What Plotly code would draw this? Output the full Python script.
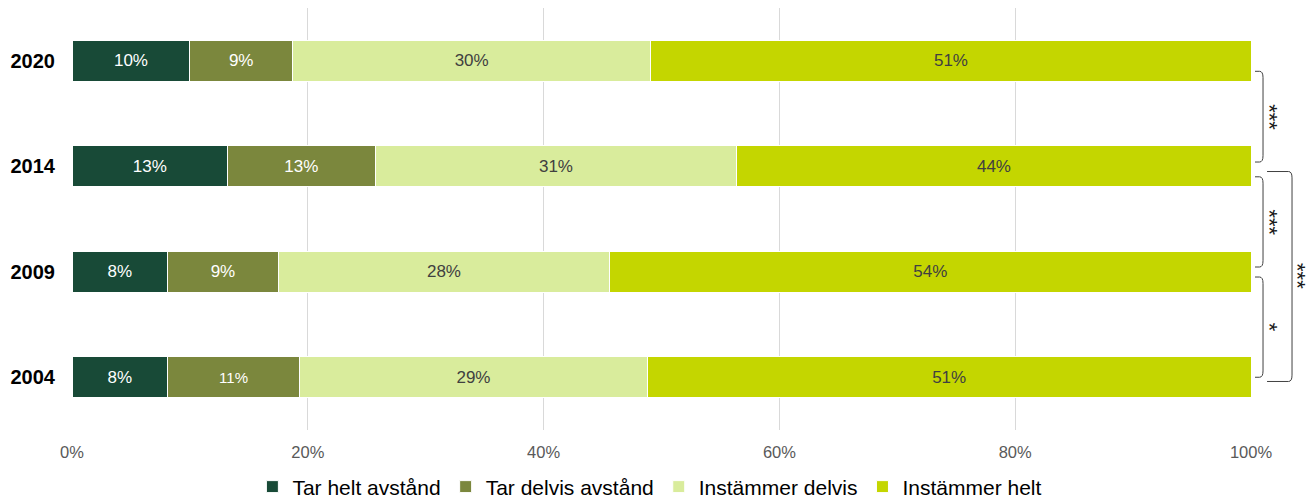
import plotly.graph_objects as go

years = ["2004", "2009", "2014", "2020"]
series_names = ["Tar helt avstånd", "Tar delvis avstånd", "Instämmer delvis", "Instämmer helt"]
tar_helt = [8.1, 8.1, 13.2, 10.0]
tar_delvis = [11.2, 9.4, 12.5, 8.7]
instammer_delvis = [29.5, 28.1, 30.7, 30.4]
instammer_helt = [51.2, 54.4, 43.6, 50.9]
labels_tar_helt = ["8%", "8%", "13%", "10%"]
labels_tar_delvis = ["11%", "9%", "13%", "9%"]
labels_instammer_delvis = ["29%", "28%", "31%", "30%"]
labels_instammer_helt = ["51%", "54%", "44%", "51%"]
x_ticks = [0, 20, 40, 60, 80, 100]
x_tick_labels = ["0%", "20%", "40%", "60%", "80%", "100%"]

colors = ["#184a37", "#7b873d", "#d9ec9c", "#c4d600"]
text_colors = ["#ffffff", "#ffffff", "#404040", "#404040"]

values = [tar_helt, tar_delvis, instammer_delvis, instammer_helt]
labels = [labels_tar_helt, labels_tar_delvis, labels_instammer_delvis, labels_instammer_helt]

FONT = "Liberation Sans, Arial"

fig = go.Figure()
for name, vals, labs, col, tcol in zip(series_names, values, labels, colors, text_colors):
    sizes = [15 if l == "11%" else 17 for l in labs]
    fig.add_trace(go.Bar(
        y=years, x=vals, name=name, orientation="h",
        marker=dict(color=col, line=dict(color="#ffffff", width=1)),
        text=labs, textposition="inside", insidetextanchor="middle",
        textfont=dict(color=tcol, size=sizes, family=FONT),
        hoverinfo="skip",
    ))

# significance brackets: (top idx, bottom idx, x_vertical, x_tick, stars, star x)
brackets = [
    (2.90, 2.04, 1.0102, 1.0034, "***", 1.0280),
    (1.90, 1.045, 1.0102, 1.0034, "***", 1.0280),
    (0.95, 0.0, 1.0102, 1.0034, "*", 1.0280),
    (1.95, -0.04, 1.0348, 1.0136, "***", 1.0517),
]
shapes = []
annotations = []
for top, bot, xv, xt, stars, sx in brackets:
    rx = 0.003
    ry = 0.06
    path = (f"M {xt},{top} L {xv-rx},{top} Q {xv},{top} {xv},{top-ry} "
            f"L {xv},{bot+ry} Q {xv},{bot} {xv-rx},{bot} L {xt},{bot}")
    shapes.append(dict(type="path", path=path, xref="paper", yref="y",
                       line=dict(color="#404040", width=1)))
    annotations.append(dict(x=sx, y=(top + bot) / 2, xref="paper", yref="y",
                            text=stars, showarrow=False, textangle=90,
                            font=dict(size=22, color="#1a1a1a", family=FONT)))

fig.update_layout(
    barmode="stack",
    bargap=0.61,
    width=1314, height=499,
    margin=dict(l=72, r=63, t=8, b=69, autoexpand=False),
    plot_bgcolor="#ffffff", paper_bgcolor="#ffffff",
    font=dict(family=FONT, color="#595959"),
    xaxis=dict(range=[0, 100], tickvals=x_ticks, ticktext=x_tick_labels,
               showgrid=True, gridcolor="#d9d9d9", gridwidth=1, zeroline=False,
               tickfont=dict(size=16.5, color="#595959"), ticks="", ticklabelstandoff=10,
               automargin=False),
    yaxis=dict(categoryorder="array", categoryarray=years, showgrid=False,
               tickfont=dict(size=20, color="#000000", family=FONT),
               ticks="", ticklabelstandoff=16, automargin=False),
    legend=dict(orientation="h", x=0.153, xanchor="left", y=-0.135, yanchor="middle",
                font=dict(size=21, color="#000000"), traceorder="normal",
                itemwidth=30, tracegroupgap=0),
    shapes=shapes,
    annotations=annotations,
    showlegend=True,
)
fig.update_yaxes(tickprefix="<b>", ticksuffix="</b>")

fig.write_html("out.html", config={"displayModeBar": False},
               post_script="document.body.style.margin='0';")
